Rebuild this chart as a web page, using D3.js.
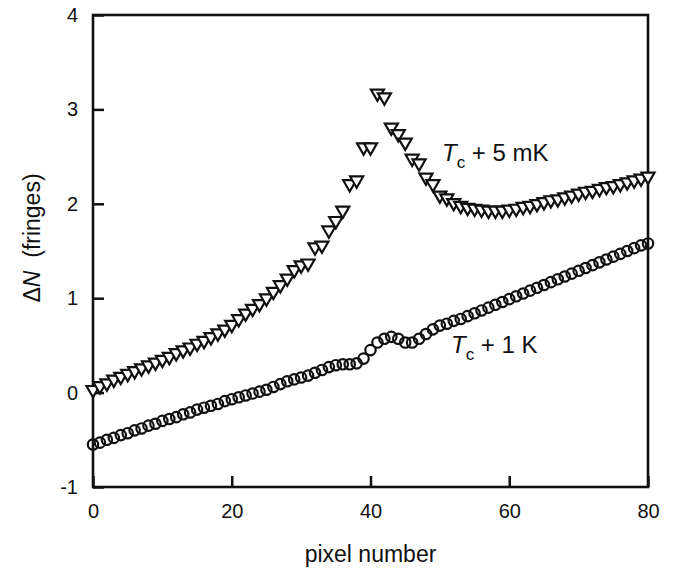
<!DOCTYPE html>
<html>
<head>
<meta charset="utf-8">
<script src="https://cdn.jsdelivr.net/npm/d3@7"></script>
<style>
  body { margin: 0; background: #fff; }
  svg text { font-family: "Liberation Sans", Arial, sans-serif; fill: #111; }
</style>
</head>
<body>
<div id="container"></div>
<script>
// pixel numbers 0..80
var pixels = d3.range(0, 81);

// Tc + 5 mK (triangles)
var tri5mK = [
  0.03, 0.07, 0.10, 0.14, 0.17, 0.20, 0.23, 0.26, 0.29, 0.32,
  0.35, 0.38, 0.42, 0.45, 0.48, 0.52, 0.55, 0.59, 0.63, 0.67,
  0.72, 0.78, 0.84, 0.89, 0.94, 1.00, 1.07, 1.14, 1.21, 1.30,
  1.35, 1.37, 1.54, 1.56, 1.72, 1.82, 1.93, 2.21, 2.25, 2.60,
  2.60, 3.17, 3.13, 2.81, 2.74, 2.65, 2.48, 2.43, 2.28, 2.21,
  2.09, 2.06, 2.01, 1.98, 1.96, 1.95, 1.94, 1.93, 1.93, 1.93,
  1.94, 1.95, 1.97, 1.98, 2.00, 2.02, 2.04, 2.05, 2.07, 2.09,
  2.11, 2.13, 2.14, 2.16, 2.18, 2.19, 2.21, 2.23, 2.25, 2.27,
  2.29
];

// Tc + 1 K (circles)
var circ1K = [
  -0.55, -0.53, -0.50, -0.48, -0.45, -0.43, -0.40, -0.38, -0.35, -0.33,
  -0.30, -0.28, -0.26, -0.23, -0.21, -0.18, -0.16, -0.14, -0.12, -0.09,
  -0.07, -0.05, -0.03, -0.01, 0.01, 0.03, 0.06, 0.09, 0.12, 0.14,
  0.16, 0.18, 0.21, 0.24, 0.27, 0.29, 0.30, 0.30, 0.31, 0.36,
  0.45, 0.53, 0.57, 0.59, 0.57, 0.53, 0.53, 0.57, 0.62, 0.67,
  0.71, 0.73, 0.76, 0.78, 0.81, 0.84, 0.87, 0.90, 0.93, 0.96,
  0.99, 1.02, 1.05, 1.08, 1.11, 1.14, 1.17, 1.20, 1.23, 1.26,
  1.29, 1.32, 1.35, 1.38, 1.41, 1.44, 1.47, 1.50, 1.53, 1.56,
  1.58
];

var xTicks = [0, 20, 40, 60, 80];
var yTicks = [-1, 0, 1, 2, 3, 4];

var width = 675, height = 570;
var margin = {left: 93, right: 27, top: 15, bottom: 83};

var svg = d3.select("#container").append("svg")
  .attr("width", width)
  .attr("height", height);

var x = d3.scaleLinear().domain([0, 80]).range([margin.left, width - margin.right]);
var y = d3.scaleLinear().domain([-1, 4]).range([height - margin.bottom, margin.top]);

var fmt = function(d){ return String(d); };

//axes, ticks pointing inward
var xAxis = svg.append("g")
  .attr("transform", "translate(0," + (height - margin.bottom) + ")")
  .call(d3.axisBottom(x).tickValues(xTicks).tickFormat(fmt).tickSizeInner(-11).tickSizeOuter(0).tickPadding(17));
var yAxis = svg.append("g")
  .attr("transform", "translate(" + margin.left + ",0)")
  .call(d3.axisLeft(y).tickValues(yTicks).tickFormat(fmt).tickSizeInner(-11).tickSizeOuter(0).tickPadding(15));

[xAxis, yAxis].forEach(function(g){
  g.select(".domain").remove();
  g.selectAll(".tick line").attr("stroke", "#111").attr("stroke-width", 2.5);
  g.selectAll(".tick text").style("font-size", "20px").attr("fill", "#111");
});

//frame
svg.append("rect")
  .attr("x", x(0)).attr("y", y(4))
  .attr("width", x(80) - x(0)).attr("height", y(-1) - y(4))
  .attr("fill", "none").attr("stroke", "#111").attr("stroke-width", 2.6);

//markers
var tri = d3.symbol().type(d3.symbolTriangle).size(74);
svg.append("g").selectAll("path")
  .data(pixels)
  .enter().append("path")
  .attr("d", tri)
  .attr("transform", function(d){ return "translate(" + x(d) + "," + y(tri5mK[d]) + ") rotate(180)"; })
  .attr("fill", "#fff").attr("stroke", "#111").attr("stroke-width", 2.2);

svg.append("g").selectAll("circle")
  .data(pixels)
  .enter().append("circle")
  .attr("cx", function(d){ return x(d); })
  .attr("cy", function(d){ return y(circ1K[d]); })
  .attr("r", 5.2)
  .attr("fill", "none").attr("stroke", "#111").attr("stroke-width", 2.2);

//series labels
function tcLabel(px, py, rest){
  var t = svg.append("text").attr("x", px).attr("y", py).style("font-size", "24px");
  t.append("tspan").style("font-style", "italic").text("T");
  t.append("tspan").attr("dy", 7).style("font-size", "17px").text("c");
  t.append("tspan").attr("dy", -7).text(" + " + rest);
}
tcLabel(442, 161, "5 mK");
tcLabel(451, 353, "1 K");

//axis titles
svg.append("text")
  .attr("x", (x(0) + x(80)) / 2).attr("y", 562)
  .attr("text-anchor", "middle")
  .style("font-size", "23px")
  .text("pixel number");

var yl = svg.append("text")
  .attr("transform", "translate(40," + 238 + ") rotate(-90)")
  .attr("text-anchor", "middle")
  .style("font-size", "23px");
yl.append("tspan").text("Δ");
yl.append("tspan").style("font-style", "italic").text("N");
yl.append("tspan").text("\u00a0\u00a0(fringes)");
</script>
</body>
</html>
